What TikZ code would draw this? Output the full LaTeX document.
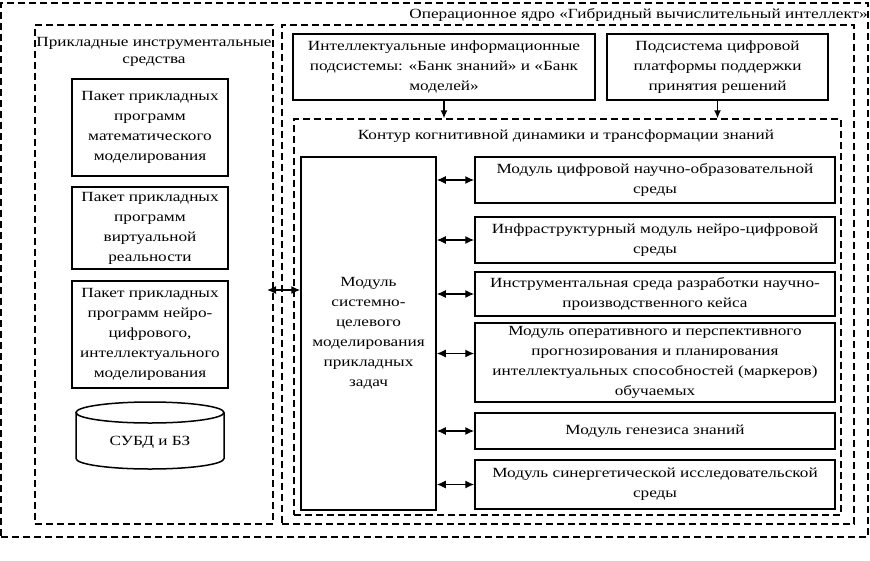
\documentclass[tikz,border=0pt]{standalone}
\usepackage{fontspec}
\setmainfont{Liberation Serif}[FakeStretch=1.23]
\usetikzlibrary{arrows.meta}
\begin{document}
\begin{tikzpicture}[x=1pt,y=-1pt,
  every node/.style={font=\fontsize{14}{20}\selectfont},
  box/.style={draw, line width=1.5pt, inner sep=0pt, align=center},
  dbox/.style={draw, dash pattern=on 7pt off 4pt, line width=1.3pt, inner sep=0pt},
  lbl/.style={inner sep=0pt, align=center},
  arr/.style={line width=1.4pt, {Latex[length=9pt,width=8pt]}-{Latex[length=9pt,width=8pt]}},
  darr/.style={line width=1.4pt, -{Latex[length=8pt,width=7pt]}}]
\useasboundingbox (0,0) rectangle (870,560);
% containers
\node[dbox, minimum width=867pt, minimum height=534pt] (frame) at (434.5,270) {};
\node[dbox, minimum width=238pt, minimum height=499pt] (left) at (154,274.5) {};
\node[dbox, minimum width=572pt, minimum height=499pt] (op) at (568,274.5) {};
\node[dbox, minimum width=547pt, minimum height=396pt] (inner) at (567.5,317) {};
% titles
\node[lbl, anchor=base east] (ftitle) at (868,18) {Операционное ядро «Гибридный вычислительный интеллект»};
\node[lbl, anchor=base, font=\fontsize{14}{17}\selectfont] (ltitle) at (154,63) {Прикладные инструментальные\\средства};
\node[lbl, anchor=base] (ititle) at (566,139) {Контур когнитивной динамики и трансформации знаний};
% top boxes
\node[box, minimum width=302pt, minimum height=66pt] (tb1) at (444,67) {Интеллектуальные информационные\\подсистемы: «Банк знаний» и «Банк\\моделей»};
\node[box, minimum width=221pt, minimum height=66pt] (tb2) at (717.5,67) {Подсистема цифровой\\платформы поддержки\\принятия решений};
% left boxes
\node[box, minimum width=156pt, minimum height=97pt] (pa) at (150,127.5) {Пакет прикладных\\программ\\математического\\моделирования};
\node[box, minimum width=156pt, minimum height=82pt] (pb) at (150,228) {Пакет прикладных\\программ\\виртуальной\\реальности};
\node[box, minimum width=156pt, minimum height=107pt] (pc) at (150,334.5) {Пакет прикладных\\программ нейро-\\цифрового,\\интеллектуального\\моделирования};
% database cylinder
\node[lbl] (db) at (150,442) {СУБД и БЗ};
\draw[line width=1.5pt] (150,412.5) ellipse [x radius=74pt, y radius=10.5pt];
\draw[line width=1.5pt] (76,412.5) -- (76,458.5) arc[start angle=180, end angle=360, x radius=74pt, y radius=10.5pt] -- (224,412.5);
% big module
\node[box, minimum width=135pt, minimum height=353pt] (big) at (368.5,333.5) {Модуль\\системно-\\целевого\\моделирования\\прикладных\\задач};
% right modules
\node[box, minimum width=360pt, minimum height=46pt] (m1) at (655,180) {Модуль цифровой научно-образовательной\\среды};
\node[box, minimum width=360pt, minimum height=46pt] (m2) at (655,240) {Инфраструктурный модуль нейро-цифровой\\среды};
\node[box, minimum width=360pt, minimum height=44pt] (m3) at (655,294) {Инструментальная среда разработки научно-\\производственного кейса};
\node[box, minimum width=360pt, minimum height=79pt] (m4) at (655,362.5) {Модуль оперативного и перспективного\\прогнозирования и планирования\\интеллектуальных способностей (маркеров)\\обучаемых};
\node[box, minimum width=360pt, minimum height=36pt] (m5) at (655,431) {Модуль генезиса знаний};
\node[box, minimum width=360pt, minimum height=49pt] (m6) at (655,484.5) {Модуль синергетической исследовательской\\среды};
% connectors
\draw[darr] (tb1.south) -- (tb1.south |- inner.north);
\draw[darr] (tb2.south) -- (tb2.south |- inner.north);
\coordinate (la) at (267,290);
\draw[arr] (la) -- (big.west |- la);
\draw[arr] (big.east |- m1.west) -- (m1.west);
\draw[arr] (big.east |- m2.west) -- (m2.west);
\draw[arr] (big.east |- m3.west) -- (m3.west);
\draw[arr] ([yshift=9pt]big.east |- m4.west) -- ([yshift=9pt]m4.west);
\draw[arr] (big.east |- m5.west) -- (m5.west);
\draw[arr] (big.east |- m6.west) -- (m6.west);
\end{tikzpicture}
\end{document}
